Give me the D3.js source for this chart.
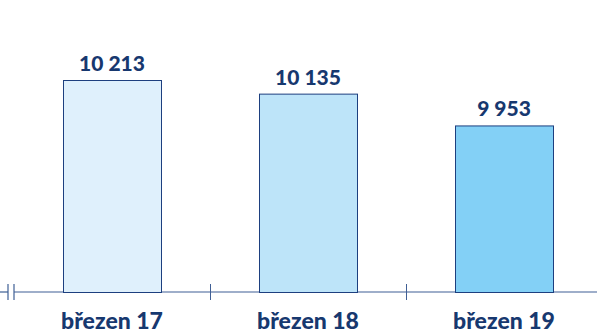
<!DOCTYPE html>
<html>
<head>
<meta charset="utf-8">
<script src="https://cdn.jsdelivr.net/npm/d3@7"></script>
<style>
  body { margin: 0; background: #fff; }
  svg { display: block; }
  .lbl { font-family: Lato, "Open Sans", sans-serif; font-weight: 900; fill: #17386f; }
</style>
</head>
<body>
<div id="chart"></div>
<script>
// data
var categories = ["březen 17", "březen 18", "březen 19"];
var values = [10213, 10135, 9953];
var valueLabels = ["10 213", "10 135", "9 953"];
var barColors = ["#dff0fc", "#bde4f9", "#83d0f6"];

var width = 597, height = 334;
var baseY = 292;

var svg = d3.select("#chart").append("svg")
    .attr("width", width)
    .attr("height", height);

// x scale: bands start right after the axis break
var x = d3.scaleBand()
    .domain(categories)
    .range([14, 602])
    .paddingInner(0.5)
    .paddingOuter(0.25);

// broken y axis, starts at 9000
var y = d3.scaleLinear()
    .domain([9000, 10213])
    .range([baseY, 80]);

// axis line with break
svg.append("line").attr("x1", 0).attr("x2", 8).attr("y1", baseY).attr("y2", baseY)
    .attr("stroke", "#3f5f95").attr("stroke-width", 1.2);
svg.append("line").attr("x1", 14).attr("x2", width).attr("y1", baseY).attr("y2", baseY)
    .attr("stroke", "#3f5f95").attr("stroke-width", 1.2);
[8, 14].forEach(function(bx) {
    svg.append("line").attr("x1", bx).attr("x2", bx).attr("y1", baseY - 8).attr("y2", baseY + 8)
        .attr("stroke", "#3f5f95").attr("stroke-width", 1.2);
});

// ticks between categories
var step = x.step();
categories.slice(1).forEach(function(c) {
    var tx = Math.round(x(c) - x.paddingInner() * step / 2) + 0.5;
    svg.append("line").attr("x1", tx).attr("x2", tx).attr("y1", baseY - 8).attr("y2", baseY + 8)
        .attr("stroke", "#3f5f95").attr("stroke-width", 1);
});

// bars
svg.append("g").selectAll("rect")
    .data(values)
    .enter()
    .append("rect")
    .attr("x", function(d, i) { return x(categories[i]) + 0.5; })
    .attr("y", function(d) { return y(d) + 0.5; })
    .attr("width", x.bandwidth())
    .attr("height", function(d) { return baseY - y(d); })
    .attr("fill", function(d, i) { return barColors[i]; })
    .attr("stroke", "#1d3f7f")
    .attr("stroke-width", 1);

// value labels
svg.append("g").selectAll("text")
    .data(values)
    .enter()
    .append("text")
    .attr("class", "lbl")
    .attr("x", function(d, i) { return x(categories[i]) + x.bandwidth() / 2; })
    .attr("y", function(d) { return y(d) - 9; })
    .attr("text-anchor", "middle")
    .attr("font-size", "21px")
    .text(function(d, i) { return valueLabels[i]; });

// category labels
svg.append("g").selectAll("text")
    .data(categories)
    .enter()
    .append("text")
    .attr("class", "lbl")
    .attr("x", function(d) { return x(d) + x.bandwidth() / 2; })
    .attr("y", 329)
    .attr("text-anchor", "middle")
    .attr("font-size", "23px")
    .text(function(d) { return d; });
</script>
</body>
</html>
